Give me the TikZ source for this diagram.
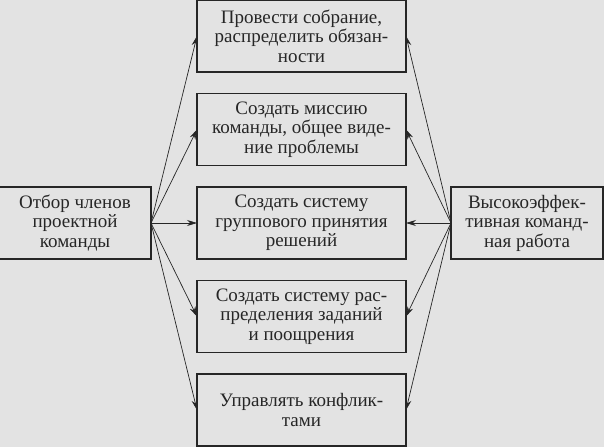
\documentclass[tikz,border=0pt]{standalone}
\usepackage{fontspec}
\setmainfont{Liberation Serif}
\usetikzlibrary{arrows.meta}
\begin{document}
\begin{tikzpicture}[x=1pt, y=-1pt, font=\fontsize{19}{19.5}\selectfont, every node/.style={draw=black!85, line width=1.1pt, fill=black!11, text=black!85, align=center, minimum height=72pt, inner sep=0pt, outer sep=0pt}, task/.style={minimum width=209pt}, side/.style={minimum width=152pt}, link/.style={draw=black!85, line width=0.7pt, -{Stealth[length=10pt, width=6pt]}}]
        \fill[black!11] (0, 0) rectangle (604, 447);
        \useasboundingbox (0, 0) rectangle (604, 447);
        \node[task] (meet) at (301.5, 36) {Провести собрание,\\распределить обязан-\\ности};
        \node[task] (mission) at (301.5, 129.5) {Создать миссию\\команды, общее виде-\\ние проблемы};
        \node[task] (decide) at (301.5, 223) {Создать систему\\группового принятия\\решений};
        \node[task] (reward) at (301.5, 316.5) {Создать систему рас-\\пределения заданий\\и поощрения};
        \node[task] (conflict) at (301.5, 410) {Управлять конфлик-\\тами};
        \node[side] (select) at (75, 223) {Отбор членов\\проектной\\команды};
        \node[side] (result) at (527, 223) {Высокоэффек-\\тивная команд-\\ная работа};
        \foreach \t in {meet, mission, decide, reward, conflict} {
            \draw[link] (select.east) -- (\t.west);
            \draw[link] (result.west) -- (\t.east);
        }
    \end{tikzpicture}
\end{document}
